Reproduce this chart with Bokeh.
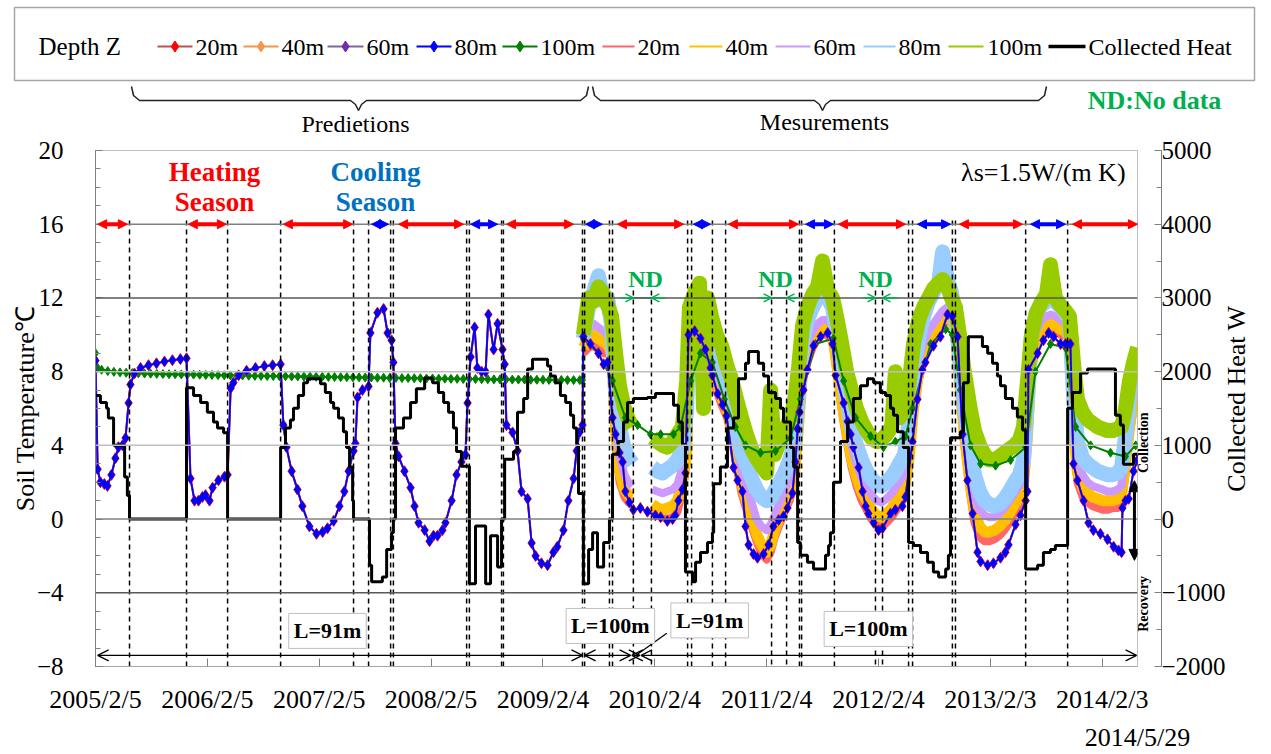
import math
from bokeh.plotting import figure
from bokeh.models import (Range1d, LinearAxis, FixedTicker, Span, Label, Arrow,
                          NormalHead, OpenHead, ColumnDataSource)
from bokeh.embed import file_html
from bokeh.resources import INLINE
from bokeh.core.properties import value

SERIF = "Liberation Serif"
NAN = float("nan")

# ------------------------------------------------------------------ data
# time axis: days elapsed since 2005/2/5
tick_days = [0, 365, 730, 1095, 1460, 1825, 2190, 2555, 2920, 3285]
tick_labels = ["2005/2/5", "2006/2/5", "2007/2/5", "2008/2/5", "2009/2/4",
               "2010/2/4", "2011/2/4", "2012/2/4", "2013/2/3", "2014/2/3"]
end_day = 3400
end_label = "2014/5/29"
temp_ticks = [-8, -4, 0, 4, 8, 12, 16, 20]
temp_minor = list(range(-8, 21))
heat_ticks = [-2000, -1000, 0, 1000, 2000, 3000, 4000, 5000]
heat_minor = [-2000, -1500, -1000, -500, 0, 500, 1000, 1500, 2000, 2500,
              3000, 3500, 4000, 4500, 5000]
grid_levels = [16, 12, 8, 4, 0, -4]

# predicted soil temperature (20-80 m coincide), days / degC
pred_days = [0, 7, 16, 29, 39, 52, 65, 75, 88, 98,
             108, 114, 127, 147, 173, 199, 225, 251, 277, 297,
             310, 323, 336, 349, 359, 372, 382, 401, 421, 431,
             441, 450, 467, 493, 522, 551, 578, 604, 613, 623,
             640, 659, 675, 698, 721, 741, 757, 777, 796, 812,
             826, 842, 848, 855, 871, 891, 897, 920, 940, 953,
             966, 972, 979, 989, 1008, 1028, 1041, 1054, 1074, 1090,
             1103, 1116, 1132, 1142, 1162, 1178, 1194, 1207, 1214, 1224,
             1237, 1246, 1260, 1273, 1282, 1299, 1312, 1328, 1335, 1341,
             1361, 1377, 1390, 1410, 1423, 1436, 1455, 1475, 1494, 1507,
             1527, 1543, 1560, 1570, 1579, 1589]
pred_80m = [8.6, 2.7, 2.0, 1.9, 1.8, 2.4, 3.3, 3.9, 4.0, 4.4,
            6.3, 7.3, 7.9, 8.2, 8.35, 8.45, 8.55, 8.62, 8.68, 8.72,
            2.2, 1.0, 1.0, 1.2, 1.3, 1.0, 1.7, 2.1, 2.3, 2.4,
            7.1, 7.4, 7.8, 8.05, 8.2, 8.3, 8.35, 8.4, 5.1, 3.9,
            2.6, 1.6, 0.7, -0.4, -0.8, -0.7, -0.5, -0.1, 0.7, 1.5,
            2.6, 3.7, 4.1, 6.6, 7.0, 7.2, 10.1, 11.2, 11.4, 10.1,
            9.7, 8.5, 4.1, 3.4, 2.6, 1.7, 0.7, -0.2, -0.6, -1.2,
            -0.9, -0.9, -0.6, -0.2, 1.0, 2.4, 3.1, 3.5, 6.3, 8.8,
            10.4, 8.2, 8.0, 8.0, 11.1, 9.2, 10.6, 9.2, 8.4, 5.1,
            4.7, 3.7, 1.5, 1.1, -1.3, -2.0, -2.4, -2.5, -1.8, -1.5,
            -0.6, 1.0, 2.2, 3.7, 4.7, 5.1]
# predicted 100 m
pred100_days = [0, 7, 20, 40, 60, 80, 100, 120, 140, 160,
                180, 200, 220, 240, 260, 280, 300, 320, 340, 360,
                380, 400, 420, 440, 460, 480, 500, 520, 540, 560,
                580, 600, 620, 640, 660, 680, 700, 720, 740, 760,
                780, 800, 820, 840, 860, 880, 900, 920, 940, 960,
                980, 1000, 1020, 1040, 1060, 1080, 1100, 1120, 1140, 1160,
                1180, 1200, 1220, 1240, 1260, 1280, 1300, 1320, 1340, 1360,
                1380, 1400, 1420, 1440, 1460, 1480, 1500, 1520, 1540, 1560,
                1580, 1589]
pred_100m = [9.00, 8.20, 8.10, 8.03, 7.99, 7.96, 7.94, 7.92, 7.91, 7.90,
             7.89, 7.88, 7.87, 7.86, 7.86, 7.85, 7.84, 7.84, 7.83, 7.82,
             7.82, 7.81, 7.80, 7.80, 7.79, 7.79, 7.78, 7.77, 7.77, 7.76,
             7.76, 7.75, 7.75, 7.74, 7.74, 7.73, 7.73, 7.72, 7.72, 7.71,
             7.71, 7.70, 7.70, 7.69, 7.69, 7.68, 7.68, 7.67, 7.67, 7.66,
             7.66, 7.65, 7.65, 7.64, 7.64, 7.63, 7.63, 7.62, 7.62, 7.61,
             7.61, 7.60, 7.60, 7.60, 7.59, 7.59, 7.58, 7.58, 7.58, 7.57,
             7.57, 7.57, 7.56, 7.56, 7.56, 7.55, 7.55, 7.55, 7.54, 7.54,
             7.54, 7.54]

# calculated series during the measurement period (markers)
calc_days = [1592, 1615, 1641, 1658, 1671, 1687, 1697, 1710, 1720, 1729,
             1742, 1755, 1778, 1801, 1827, 1844, 1866, 1883, 1892, 1902,
             1915, 1925, 1935, 1955, 1974, 1990, 2007, 2013, 2030, 2046,
             2059, 2082, 2095, 2111, 2121, 2131, 2147, 2160, 2180, 2196,
             2212, 2229, 2245, 2258, 2274, 2284, 2291, 2297, 2310, 2323,
             2343, 2366, 2389, 2405, 2415, 2441, 2454, 2464, 2473, 2490,
             2503, 2513, 2522, 2539, 2555, 2568, 2594, 2610, 2633, 2643,
             2666, 2682, 2698, 2708, 2734, 2757, 2780, 2796, 2813, 2829,
             2845, 2862, 2878, 2888, 2911, 2930, 2953, 2969, 2979, 3002,
             3018, 3035, 3041, 3044, 3074, 3093, 3110, 3126, 3149, 3165,
             3181, 3191, 3204, 3224, 3240, 3256, 3279, 3302, 3322, 3338,
             3348, 3351, 3361, 3371, 3387, 3400]
calc_80m = [9.9, 9.5, 9.0, 8.4, 8.5, 5.5, 4.6, 3.6, 3.1, 1.5,
            0.9, 0.5, 0.6, 0.4, 0.2, 0.1, -0.1, 0.0, 0.2, 1.0,
            1.6, 2.5, 10.0, 10.2, 9.8, 9.2, 8.2, 7.8, 6.8, 6.2,
            5.6, 2.8, 2.1, 1.5, -0.4, -1.4, -1.9, -2.1, -1.9, -1.4,
            -0.4, -0.05, 0.15, 0.6, 1.4, 3.1, 4.9, 5.8, 7.0, 8.1,
            9.4, 9.9, 10.1, 9.5, 7.8, 6.3, 5.3, 4.6, 3.9, 2.8,
            1.5, 0.7, 0.3, -0.2, -0.6, -0.5, 0.3, 0.5, 0.7, 1.2,
            4.2, 6.5, 8.1, 8.5, 9.4, 9.9, 11.1, 11.0, 9.9, 4.6,
            2.1, 0.3, -1.8, -2.3, -2.5, -2.4, -2.1, -1.8, -1.4, -0.3,
            0.2, 1.0, 1.5, 8.1, 9.0, 9.7, 10.1, 9.9, 9.5, 9.5,
            9.5, 3.0, 2.1, 1.0, -0.2, -0.6, -0.8, -1.1, -1.5, -1.7,
            -1.8, 0.6, 1.0, 1.1, 2.6, 3.2]
calc100_days = [1592, 1641, 1687, 1729, 1769, 1811, 1844, 1886, 1909, 1942,
                1974, 2013, 2052, 2088, 2121, 2170, 2219, 2268, 2300, 2349,
                2408, 2441, 2480, 2529, 2571, 2610, 2643, 2666, 2725, 2774,
                2796, 2822, 2855, 2888, 2937, 2986, 3035, 3067, 3116, 3165,
                3198, 3247, 3312, 3361, 3394]
calc_100m = [9.8, 9.0, 7.5, 5.5, 5.1, 4.6, 4.6, 4.6, 5.0, 7.5,
             9.0, 8.5, 6.5, 5.0, 4.0, 3.6, 3.7, 4.4, 6.5, 9.5,
             9.8, 7.5, 5.5, 4.5, 3.9, 4.2, 4.5, 6.0, 9.5, 10.3,
             10.0, 7.0, 4.0, 3.0, 2.9, 3.2, 3.9, 8.0, 9.5, 9.3,
             5.0, 4.0, 3.6, 3.4, 4.0]

# measured soil temperature (NaN = no data)
meas_days = [1592, 1609, 1625, 1641, 1658, 1671, 1684, 1697, 1710, 1726,
             1739, 1752, 1778, 1817, 1834, 1850, 1866, 1883, 1899, 1915,
             1929, 1938, 1955, 1971, 1984, 1997, 2010, 2026, 2043, 2059,
             2075, 2092, 2108, 2124, 2141, 2157, 2173, 2190, 2203, 2216,
             2232, 2248, 2265, 2281, 2294, 2307, 2323, 2340, 2356, 2372,
             2389, 2405, 2418, 2434, 2451, 2467, 2483, 2500, 2516, 2532,
             2549, 2565, 2581, 2598, 2610, 2623, 2640, 2656, 2669, 2686,
             2702, 2718, 2734, 2751, 2764, 2780, 2793, 2806, 2819, 2835,
             2852, 2868, 2885, 2901, 2917, 2934, 2950, 2966, 2982, 2999,
             3015, 3028, 3041, 3054, 3070, 3087, 3103, 3116, 3132, 3149,
             3165, 3178, 3191, 3204, 3221, 3237, 3253, 3270, 3286, 3302,
             3319, 3335, 3348, 3361, 3374, 3387, 3400]
meas_20m = [9.0, 9.3, 9.4, 9.2, 9.0, 9.0, 8.6, 4.0, 2.0, 1.2,
            0.9, 0.8, NAN, 0.4, 0.2, 0.1, 0.0, 0.1, 0.4, 1.5,
            3.0, 8.8, 9.5, 9.4, 9.0, 8.8, 8.0, 7.0, 6.2, 5.6,
            4.5, 2.8, 1.4, 0.5, -0.4, -1.2, -1.9, -2.2, -1.8, -1.0,
            -0.3, 0.4, 1.0, 2.0, 4.5, 7.5, 8.5, 9.3, 9.8, 10.0,
            10.0, 9.6, 8.0, 6.0, 4.2, 2.8, 1.8, 1.0, 0.5, 0.0,
            -0.3, -0.4, -0.2, 0.1, 0.4, 0.7, 1.2, 3.0, 5.5, 7.5,
            8.6, 9.3, 9.8, 10.2, 10.5, 10.8, 10.7, 9.5, 7.0, 4.0,
            1.6, -0.2, -1.0, -1.2, -1.2, -1.1, -0.9, -0.6, -0.2, 0.3,
            0.7, 1.4, 4.0, 8.0, 9.4, 10.0, 10.2, 10.3, 10.2, 10.0,
            9.9, 9.5, 4.5, 2.0, 1.2, 0.9, 0.7, 0.6, 0.5, 0.5,
            0.6, 0.6, 0.8, 2.5, 4.5, 6.0, 7.0]
meas_40m = [9.3, 9.8, 10.0, 9.8, 9.6, 9.5, 9.0, 4.8, 2.6, 1.6,
            1.3, 1.2, NAN, 0.8, 0.6, 0.5, 0.6, 0.7, 1.0, 2.0,
            3.5, 9.2, 9.8, 9.8, 9.5, 9.2, 8.5, 7.5, 6.6, 6.0,
            5.0, 3.3, 1.9, 1.0, 0.1, -0.8, -1.4, -1.8, -1.4, -0.6,
            0.1, 0.8, 1.4, 2.5, 5.0, 8.0, 9.0, 9.6, 10.1, 10.3,
            10.3, 10.0, 8.5, 6.5, 4.8, 3.3, 2.3, 1.5, 1.0, 0.5,
            0.2, 0.1, 0.3, 0.6, 0.9, 1.2, 1.7, 3.5, 6.0, 8.0,
            9.0, 9.7, 10.1, 10.5, 10.8, 11.0, 11.0, 10.0, 7.5, 4.6,
            2.2, 0.4, -0.4, -0.7, -0.7, -0.6, -0.4, -0.1, 0.3, 0.8,
            1.2, 1.9, 4.5, 8.4, 9.7, 10.3, 10.5, 10.6, 10.5, 10.3,
            10.2, 9.8, 5.0, 2.5, 1.7, 1.4, 1.2, 1.1, 1.0, 1.0,
            1.0, 1.1, 1.3, 3.0, 5.0, 6.5, 7.4]
meas_60m = [9.6, 10.3, 10.6, 10.4, 10.2, 10.0, 9.5, 5.5, 3.4, 2.4,
            2.0, 1.8, NAN, 1.6, 1.5, 1.4, 1.5, 1.6, 1.9, 2.8,
            4.5, 9.8, 10.4, 10.5, 10.0, 9.8, 9.0, 8.0, 7.2, 6.5,
            5.5, 4.0, 2.6, 1.8, 0.9, 0.0, -0.4, -0.6, -0.3, 0.2,
            0.9, 1.5, 2.2, 3.3, 5.8, 8.5, 9.6, 10.2, 10.6, 10.8,
            10.8, 10.5, 9.0, 7.2, 5.5, 4.0, 3.0, 2.2, 1.7, 1.3,
            1.0, 0.9, 1.1, 1.4, 1.7, 2.0, 2.5, 4.2, 6.8, 8.6,
            9.6, 10.2, 10.6, 11.0, 11.3, 11.5, 11.4, 10.5, 8.2, 5.4,
            3.0, 1.2, 0.5, 0.2, 0.1, 0.1, 0.3, 0.6, 1.0, 1.4,
            1.8, 2.5, 5.3, 9.0, 10.2, 10.8, 11.0, 11.1, 11.0, 10.8,
            10.6, 10.3, 5.8, 3.2, 2.4, 2.0, 1.8, 1.7, 1.6, 1.5,
            1.5, 1.6, 1.8, 3.6, 5.6, 7.0, 7.8]
meas_80m = [9.8, 11.5, 12.3, 13.2, 11.8, 12.0, 10.5, 7.0, 5.0, 3.8,
            3.3, 3.0, NAN, 2.8, 2.6, 2.5, 2.7, 2.9, 3.2, 3.8,
            6.0, 11.0, 11.8, 12.2, 11.0, 11.5, 10.0, 8.8, 8.0, 7.2,
            6.0, 4.8, 3.6, 3.0, 2.2, 1.6, 1.2, 1.0, 1.1, 1.5,
            2.0, 2.5, 3.2, 4.2, 6.8, 9.5, 10.8, 11.5, 12.0, 12.5,
            12.0, 11.5, 10.0, 8.2, 6.5, 5.0, 4.0, 3.2, 2.6, 2.2,
            1.9, 1.8, 2.0, 2.3, 2.6, 3.0, 3.5, 5.5, 8.0, 9.8,
            11.0, 11.8, 12.3, 12.8, 14.5, 13.0, 12.3, 11.0, 9.0, 6.2,
            4.0, 2.4, 1.5, 1.0, 0.8, 0.7, 0.8, 1.1, 1.5, 2.0,
            2.4, 3.2, 6.5, 10.0, 11.2, 11.6, 11.8, 12.0, 11.8, 11.5,
            11.2, 10.8, 6.8, 4.2, 3.3, 3.0, 2.8, 2.6, 2.5, 2.4,
            2.4, 2.5, 2.8, 4.5, 6.5, 7.8, 8.5]
meas_100m = [10.0, 12.0, 11.8, 12.6, 12.2, 11.6, 11.0, 9.0, 7.2, 6.0,
             5.4, 5.0, NAN, 4.4, 4.2, 4.0, 3.9, 4.2, 4.6, 5.0,
             7.5, 11.5, 12.3, 12.8, 6.0, 12.0, 11.0, 10.0, 9.4, 8.4,
             7.6, 6.5, 5.5, 4.6, 3.8, 3.3, 2.9, 2.5, 7.0, 3.5,
             4.2, 4.8, 5.4, 6.4, 8.2, 10.5, 11.5, 12.2, 12.6, 14.0,
             12.4, 12.0, 11.0, 9.6, 8.0, 7.0, 6.0, 5.3, 4.8, 4.4,
             4.2, 4.3, 4.6, 5.0, 8.0, 5.5, 6.0, 7.5, 9.5, 10.8,
             11.5, 12.0, 12.5, 12.8, 13.0, 12.6, 12.0, 11.5, 10.0, 8.0,
             6.2, 4.8, 4.0, 3.5, 3.2, 3.2, 3.4, 3.6, 3.8, 4.0,
             4.3, 5.0, 7.5, 10.0, 11.2, 11.8, 12.2, 13.8, 12.0, 11.6,
             11.3, 11.0, 8.5, 6.5, 5.8, 5.4, 5.2, 5.0, 4.9, 4.8,
             4.8, 4.9, 5.0, 6.0, 7.5, 8.5, 9.3]

# collected heat (W), step values starting at each day
heat_days = [0, 16, 36, 42, 59, 95, 104, 111, 297, 320,
             343, 365, 385, 398, 418, 431, 604, 620, 636, 646,
             662, 679, 692, 734, 750, 767, 777, 793, 809, 819,
             829, 839, 842, 894, 901, 936, 950, 966, 972, 979,
             1005, 1028, 1047, 1074, 1100, 1119, 1136, 1152, 1168, 1178,
             1194, 1220, 1240, 1273, 1289, 1312, 1325, 1335, 1364, 1377,
             1397, 1410, 1426, 1475, 1485, 1501, 1517, 1534, 1550, 1560,
             1570, 1576, 1592, 1609, 1622, 1638, 1658, 1677, 1687, 1706,
             1723, 1736, 1755, 1801, 1827, 1886, 1902, 1915, 1925, 1948,
             1958, 1974, 1997, 2013, 2017, 2039, 2062, 2082, 2098, 2121,
             2131, 2163, 2180, 2196, 2219, 2235, 2245, 2268, 2278, 2291,
             2300, 2323, 2343, 2382, 2392, 2398, 2408, 2431, 2454, 2473,
             2496, 2519, 2539, 2561, 2578, 2594, 2604, 2617, 2636, 2653,
             2669, 2692, 2715, 2734, 2751, 2774, 2783, 2790, 2822, 2832,
             2848, 2894, 2911, 2927, 2943, 2953, 2969, 2992, 3008, 3025,
             3035, 3074, 3093, 3116, 3132, 3172, 3188, 3214, 3237, 3328,
             3344, 3354, 3387, 3400]
heat_w = [1676, 1583, 1503, 1370, 1000, 572, 319, 0, 1782, 1676,
          1583, 1450, 1317, 1237, 1170, 0, 971, 1237, 1343, 1503,
          1676, 1849, 1902, 1835, 1716, 1583, 1503, 1370, 1184, 971,
          705, 250, 0, -625, -851, -785, -412, -186, 0, 1237,
          1370, 1583, 1769, 1915, 1849, 1716, 1583, 1450, 1237, 918,
          718, -878, -93, -878, -226, -651, 0, 811, 918, 1450,
          1636, 2035, 2168, 2075, 1942, 1849, 1676, 1583, 1410, 1237,
          1011, 346, -878, -412, -186, -651, -319, 0, 878, 1051,
          1317, 1583, 1636, 1649, 1702, 1543, 1317, 1011, -718, -851,
          -585, -452, -319, -186, 479, 705, 1237, 1370, 1902, 2115,
          2274, 2115, 1942, 1716, 1636, 1503, 1317, 971, 705, -319,
          -492, -585, -678, -492, -359, -186, 500, 1051, 1317, 1636,
          1809, 1902, 1849, 1716, 1676, 1503, 1410, 1184, 971, -319,
          -359, -452, -585, -718, -785, -678, -492, 1104, 1184, 1849,
          2474, 2341, 2248, 2115, 1942, 1809, 1636, 1503, 1383, 1210,
          -678, -625, -452, -412, -359, 1503, 1716, 1982, 2035, 1410,
          1277, 745, 878, 878]

# seasons (days)
heating_start = [7, 303, 613, 989, 1341, 1703, 2065, 2424, 2819, 3188]
heating_end = [104, 427, 839, 1201, 1560, 1919, 2294, 2643, 3025, 3400]
cooling_start = [901, 1224, 1599, 1951, 2317, 2682, 3051]
cooling_end = [956, 1312, 1654, 2007, 2408, 2790, 3165]
season_level = 16
switch_days = [111, 297, 431, 604, 842, 891, 963, 972, 1211, 1220, 1325, 1331,
               1589, 1596, 1677, 1687, 1932, 1945, 2013, 2056, 2297, 2304,
               2411, 2653, 2666, 2796, 2806, 3035, 3172]
# no-data periods
nd_outer_left = [1713, 2163, 2503]
nd_left = [1755, 2206, 2545]
nd_right = [1814, 2255, 2568]
nd_outer_right = [1860, 2294, 2617]
nd_label_day = [1795, 2219, 2545]
nd_level = 12
# borehole length periods
len_start = [7, 1596, 1750, 1780]
len_end = [1589, 1746, 1776, 3397]
len_level = -7.4
len_labels = ["L=91m", "L=100m", "L=91m", "L=100m"]
len_label_day = [757, 1680, 2004, 2522]
len_label_y = [-6.07, -5.8, -5.5, -5.96]
# collection / recovery marks on the heat axis (W)
side_ticks = [625, -1530]
side_labels = ["Collection", "Recovery"]
heat_title_pos = 372

# legend
legend_names = ["20m", "40m", "60m", "80m", "100m",
                "20m", "40m", "60m", "80m", "100m", "Collected Heat"]
calc_colors = ["#FF0000", "#F79646", "#7030A0", "#0000FF", "#008000"]
calc_line_colors = ["#C0504D", "#F79646", "#8064A2", "#0000FF", "#008000"]
meas_colors = ["#FF6666", "#FFC000", "#CC99FF", "#99CCFF", "#99CC00"]

assert len(pred_days) == len(pred_80m)
assert len(pred100_days) == len(pred_100m)
assert len(calc_days) == len(calc_80m)
assert len(calc100_days) == len(calc_100m)
for s in (meas_20m, meas_40m, meas_60m, meas_80m, meas_100m):
    assert len(s) == len(meas_days)
assert len(heat_days) == len(heat_w)

TOP_H = 136
# ------------------------------------------------------------------ top strip
top = figure(width=1271, height=TOP_H, x_range=Range1d(0, 1271), y_range=Range1d(TOP_H, 0),
             toolbar_location=None, output_backend="svg", min_border=0)
top.axis.visible = False
top.grid.visible = False
top.outline_line_color = None

top.quad(left=[14], right=[1254], top=[7], bottom=[80], fill_color="white",
         line_color="#a6a6a6", line_width=1.5)
top.text(x=[38], y=[46], text=["Depth Z"], text_font=value(SERIF), text_font_size="25px",
         text_baseline="middle", text_align="left", text_color="black")

leg_x0 = [157, 243, 327, 416, 502, 602, 689, 775, 863, 948, 1048]
leg_x1 = [192, 278, 363, 451, 537, 634, 722, 810, 895, 983, 1085]
leg_tx = [195, 281, 366, 454, 540, 637, 725, 813, 898, 987, 1088]
leg_y = 46
line_cols = calc_line_colors + meas_colors + ["black"]
widths = [2, 2, 2, 2, 2, 2, 2, 2, 2, 2, 3.5]
for i in range(11):
    top.line([leg_x0[i], leg_x1[i]], [leg_y, leg_y], line_color=line_cols[i], line_width=widths[i])
top.scatter([(leg_x0[i] + leg_x1[i]) / 2 for i in range(5)], [leg_y] * 5, marker="diamond",
            size=11, fill_color=calc_colors, line_color=calc_colors)
top.text(x=leg_tx, y=[leg_y] * 11, text=legend_names, text_font=value(SERIF),
         text_font_size="24px", text_baseline="middle", text_align="left", text_color="black")

brace_y = [86, 95, 100, 100, 104, 110, 104, 100, 100, 95, 86]
top.line([131, 133, 139, 350, 355, 358, 361, 366, 580, 586, 588], brace_y,
         line_color="#222222", line_width=1.5)
top.line([592, 594, 600, 814, 819, 822, 825, 830, 1038, 1044, 1046], brace_y,
         line_color="#222222", line_width=1.5)
top.text(x=[355, 824], y=[123, 121], text=["Predietions", "Mesurements"],
         text_font=value(SERIF), text_font_size="24px", text_baseline="middle",
         text_align="center", text_color="black")
top.text(x=[1154], y=[100], text=["ND:No data"], text_font=value(SERIF),
         text_font_size="26px", text_font_style="bold", text_baseline="middle",
         text_align="center", text_color="#00B050")

# ------------------------------------------------------------------ main plot
p = figure(width=1271, height=754 - TOP_H, x_range=Range1d(0, end_day), y_range=Range1d(-8, 20),
           toolbar_location=None, output_backend="svg",
           min_border_left=95, min_border_right=134, min_border_top=150 - TOP_H,
           min_border_bottom=78)
p.extra_y_ranges = {"heat": Range1d(-2000, 5000)}
p.outline_line_color = "#bfbfbf"
p.xgrid.visible = False
p.ygrid.visible = False

p.xaxis.ticker = FixedTicker(ticks=tick_days)
p.xaxis.major_label_overrides = {d: l for d, l in zip(tick_days, tick_labels)}
p.xaxis.major_tick_in = 8
p.xaxis.major_tick_out = 0
p.xaxis.minor_tick_line_color = None
p.xaxis.axis_line_color = "#a6a6a6"
p.xaxis.major_tick_line_color = "#808080"
p.xaxis.major_label_text_font = SERIF
p.xaxis.major_label_text_font_size = "26px"
p.xaxis.major_label_text_color = "black"
p.xaxis.major_label_standoff = 18

# second line under the date axis: end date
ax_end = LinearAxis(ticker=FixedTicker(ticks=[end_day]),
                    major_label_overrides={end_day: end_label})
ax_end.axis_line_color = None
ax_end.major_tick_line_color = None
ax_end.minor_tick_line_color = None
ax_end.major_label_text_font = SERIF
ax_end.major_label_text_font_size = "26px"
ax_end.major_label_text_color = "black"
ax_end.major_label_standoff = 0
p.add_layout(ax_end, "below")

p.yaxis.ticker = FixedTicker(ticks=temp_ticks, minor_ticks=temp_minor)
p.yaxis.major_tick_in = 7
p.yaxis.major_tick_out = 0
p.yaxis.minor_tick_in = 5
p.yaxis.minor_tick_out = 0
p.yaxis.axis_line_color = "#808080"
p.yaxis.major_tick_line_color = "#808080"
p.yaxis.minor_tick_line_color = "#808080"
p.yaxis.major_label_text_font = SERIF
p.yaxis.major_label_text_font_size = "25px"
p.yaxis.major_label_text_color = "black"
p.yaxis.major_label_standoff = 32
p.yaxis.axis_label = "Soil Temperature℃"
p.yaxis.axis_label_text_font = SERIF
p.yaxis.axis_label_text_font_size = "26px"
p.yaxis.axis_label_text_font_style = "normal"
p.yaxis.axis_label_text_color = "black"
p.yaxis.axis_label_standoff = -6

# right side: Collection/Recovery marks, heat scale, heat title
ax_side = LinearAxis(y_range_name="heat", ticker=FixedTicker(ticks=side_ticks),
                     major_label_overrides=dict(zip(side_ticks, side_labels)))
ax_side.axis_line_color = None
ax_side.major_tick_line_color = None
ax_side.minor_tick_line_color = None
ax_side.major_label_orientation = math.pi / 2
ax_side.major_label_text_font = SERIF
ax_side.major_label_text_font_size = "14px"
ax_side.major_label_text_font_style = "bold"
ax_side.major_label_text_color = "black"
ax_side.major_label_standoff = 0

ax2 = LinearAxis(y_range_name="heat", ticker=FixedTicker(ticks=heat_ticks, minor_ticks=heat_minor))
ax2.major_tick_in = 7
ax2.major_tick_out = 0
ax2.minor_tick_in = 5
ax2.minor_tick_out = 0
ax2.axis_line_color = "#808080"
ax2.major_tick_line_color = "#808080"
ax2.minor_tick_line_color = "#808080"
ax2.major_label_text_font = SERIF
ax2.major_label_text_font_size = "25px"
ax2.major_label_text_color = "black"
ax2.major_label_standoff = 0

ax_title = LinearAxis(y_range_name="heat", ticker=FixedTicker(ticks=[heat_title_pos]),
                      major_label_overrides={heat_title_pos: "Collected Heat  W"})
ax_title.axis_line_color = None
ax_title.major_tick_line_color = None
ax_title.minor_tick_line_color = None
ax_title.major_label_orientation = math.pi / 2
ax_title.major_label_text_font = SERIF
ax_title.major_label_text_font_size = "26px"
ax_title.major_label_text_color = "black"
ax_title.major_label_standoff = 2

p.add_layout(ax_side, "right")
p.add_layout(ax2, "right")
p.add_layout(ax_title, "right")

grid_colors = {16: "#808080", 12: "#595959", 8: "#bfbfbf", 4: "#bfbfbf", 0: "#808080", -4: "#595959"}
for g in grid_levels:
    p.add_layout(Span(location=g, dimension="width", line_color=grid_colors[g], line_width=1.5))

# measured (light) series
meas_series = [meas_20m, meas_40m, meas_60m, meas_80m, meas_100m]
meas_widths = [8, 11, 8, 15, 15]
for vals, col, w in zip(meas_series, meas_colors, meas_widths):
    p.line(meas_days, vals, line_color=col, line_width=w, line_join="round")

# calculated series with markers
green_days = pred100_days + calc100_days
green_vals = pred_100m + calc_100m
p.line(green_days, green_vals, line_color="#008000", line_width=2)
p.scatter(green_days, green_vals, marker="diamond", size=9, fill_color="#008000", line_color="#008000")

blue_days = pred_days + calc_days
blue_vals = pred_80m + calc_80m
# 20 m, 40 m, 60 m coincide with 80 m at this scale
for col, sz in zip(calc_colors[:3], [11, 9, 9]):
    p.line(blue_days, blue_vals, line_color=col, line_width=2)
    p.scatter(blue_days, blue_vals, marker="diamond", size=sz, fill_color=col, line_color=col)
p.line(blue_days, blue_vals, line_color="#0000FF", line_width=1.5)
p.scatter(blue_days, blue_vals, marker="diamond", size=9, fill_color="#0000FF", line_color="#0000FF")

# collected heat
p.step(heat_days, heat_w, mode="after", line_color="black", line_width=3, y_range_name="heat")

# switching lines
p.segment(x0=switch_days, y0=[16.2] * len(switch_days), x1=switch_days, y1=[-8] * len(switch_days),
          line_color="black", line_width=1.5, line_dash="5 4")
nd_dash = nd_left + nd_right
p.segment(x0=nd_dash, y0=[12.4] * len(nd_dash), x1=nd_dash, y1=[-8] * len(nd_dash),
          line_color="black", line_width=1.5, line_dash="5 4")

# season arrows
for st, en, col in ((heating_start, heating_end, "#FF0000"), (cooling_start, cooling_end, "#0000FF")):
    src = ColumnDataSource(dict(x0=st, x1=en, y=[season_level] * len(st)))
    p.add_layout(Arrow(x_start="x0", y_start="y", x_end="x1", y_end="y", source=src,
                       line_color=col, line_width=4,
                       start=NormalHead(size=9, fill_color=col, line_color=col),
                       end=NormalHead(size=9, fill_color=col, line_color=col)))

# ND arrows
ndc = "#00B050"
src_l = ColumnDataSource(dict(x0=nd_outer_left, x1=nd_left, y=[nd_level] * 3))
src_r = ColumnDataSource(dict(x0=nd_outer_right, x1=nd_right, y=[nd_level] * 3))
for s in (src_l, src_r):
    p.add_layout(Arrow(x_start="x0", y_start="y", x_end="x1", y_end="y", source=s,
                       line_color=ndc, line_width=1.5,
                       end=OpenHead(size=8, line_color=ndc, line_width=1.5)))
p.segment(x0=nd_left, y0=[nd_level] * 3, x1=nd_right, y1=[nd_level] * 3, line_color=ndc, line_width=1.5)
for d in nd_label_day:
    p.add_layout(Label(x=d, y=13.05, text="ND", text_font=SERIF, text_font_size="24px",
                       text_font_style="bold", text_color=ndc, text_align="center",
                       text_baseline="middle"))

# borehole length arrows
src_len = ColumnDataSource(dict(x0=len_start, x1=len_end, y=[len_level] * 4))
p.add_layout(Arrow(x_start="x0", y_start="y", x_end="x1", y_end="y", source=src_len,
                   line_color="black", line_width=1.3,
                   start=OpenHead(size=11, line_color="black", line_width=1.3),
                   end=OpenHead(size=11, line_color="black", line_width=1.3)))
p.segment(x0=[1864], y0=[-6.2], x1=[1763], y1=[len_level], line_color="black", line_width=1.2)
for t, d, yv in zip(len_labels, len_label_day, len_label_y):
    p.add_layout(Label(x=d, y=yv, text=t, text_font=SERIF, text_font_size="22px",
                       text_font_style="bold", text_color="black", text_align="center",
                       text_baseline="middle", background_fill_color="white",
                       border_line_color="#bfbfbf", padding=5))

# season text
for txt, yv in (("Heating", 18.84), ("Season", 17.19)):
    p.add_layout(Label(x=388, y=yv, text=txt, text_font=SERIF, text_font_size="27px",
                       text_font_style="bold", text_color="#FF0000", text_align="center",
                       text_baseline="middle"))
for txt, yv in (("Cooling", 18.84), ("Season", 17.19)):
    p.add_layout(Label(x=914, y=yv, text=txt, text_font=SERIF, text_font_size="27px",
                       text_font_style="bold", text_color="#0070C0", text_align="center",
                       text_baseline="middle"))
p.add_layout(Label(x=3361, y=18.79, text="λs=1.5W/(m K)", text_font=SERIF,
                   text_font_size="26px", text_color="black", text_align="right",
                   text_baseline="middle"))

# collection / recovery arrow at the right edge
p.add_layout(Arrow(x_start=3390, y_start=-560, x_end=3390, y_end=520, y_range_name="heat",
                   line_color="black", line_width=3,
                   start=NormalHead(size=11, fill_color="black", line_color="black"),
                   end=NormalHead(size=11, fill_color="black", line_color="black")))

open("out.html", "w").write(file_html([top, p], INLINE))
